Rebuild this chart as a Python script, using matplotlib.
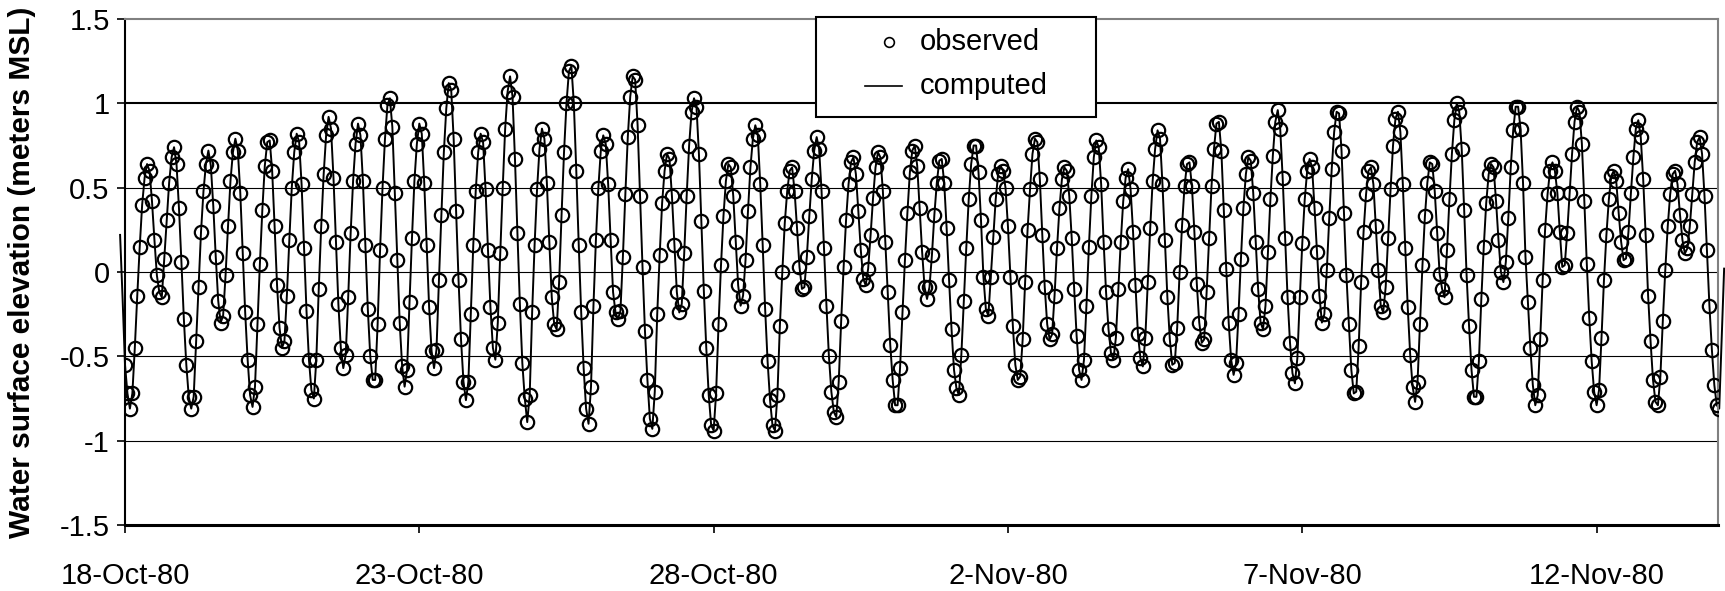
import numpy as np
import pandas as pd
import matplotlib
matplotlib.use('Agg')
import matplotlib.pyplot as plt
import matplotlib.dates as mdates
from matplotlib.lines import Line2D
from matplotlib.patches import Rectangle

plt.rcParams['font.family'] = ['Liberation Sans', 'DejaVu Sans']
plt.rcParams['axes.unicode_minus'] = False

start = pd.Timestamp('1980-10-18 00:00')

# hourly observed water surface elevation (m MSL), one row per day from 18-Oct-80
observed = [
    -0.55, -0.72, -0.81, -0.72, -0.45, -0.14, 0.15, 0.40, 0.56, 0.64, 0.60, 0.42, 0.19, -0.02, -0.12, -0.15, 0.08, 0.31, 0.53, 0.68, 0.74, 0.64, 0.38, 0.06,
    -0.28, -0.55, -0.74, -0.81, -0.74, -0.41, -0.09, 0.24, 0.48, 0.64, 0.72, 0.63, 0.39, 0.09, -0.17, -0.30, -0.26, -0.02, 0.27, 0.54, 0.71, 0.79, 0.72, 0.47,
    0.11, -0.24, -0.52, -0.73, -0.80, -0.68, -0.31, 0.05, 0.37, 0.63, 0.77, 0.78, 0.60, 0.27, -0.08, -0.33, -0.45, -0.41, -0.14, 0.19, 0.50, 0.71, 0.82, 0.77,
    0.52, 0.14, -0.23, -0.52, -0.70, -0.75, -0.52, -0.10, 0.27, 0.58, 0.81, 0.92, 0.85, 0.56, 0.18, -0.19, -0.45, -0.57, -0.49, -0.15, 0.23, 0.54, 0.76, 0.88,
    0.81, 0.54, 0.16, -0.22, -0.50, -0.64, -0.64, -0.31, 0.13, 0.50, 0.79, 0.99, 1.03, 0.86, 0.47, 0.07, -0.30, -0.56, -0.68, -0.58, -0.18, 0.20, 0.54, 0.76,
    0.88, 0.82, 0.53, 0.16, -0.21, -0.47, -0.57, -0.46, -0.05, 0.34, 0.71, 0.97, 1.12, 1.08, 0.79, 0.36, -0.05, -0.40, -0.65, -0.76, -0.65, -0.25, 0.16, 0.48,
    0.71, 0.82, 0.77, 0.49, 0.13, -0.21, -0.45, -0.52, -0.30, 0.11, 0.50, 0.85, 1.07, 1.16, 1.04, 0.67, 0.23, -0.19, -0.54, -0.75, -0.89, -0.73, -0.24, 0.16,
    0.49, 0.73, 0.85, 0.79, 0.53, 0.18, -0.15, -0.31, -0.34, -0.06, 0.34, 0.71, 1.00, 1.19, 1.22, 1.00, 0.60, 0.16, -0.24, -0.57, -0.81, -0.90, -0.68, -0.20,
    0.19, 0.50, 0.72, 0.81, 0.76, 0.52, 0.19, -0.12, -0.24, -0.28, -0.23, 0.09, 0.46, 0.80, 1.04, 1.16, 1.14, 0.87, 0.45, 0.03, -0.35, -0.64, -0.87, -0.93,
    -0.71, -0.25, 0.10, 0.41, 0.60, 0.70, 0.67, 0.45, 0.16, -0.12, -0.24, -0.19, 0.11, 0.45, 0.75, 0.95, 1.03, 0.98, 0.70, 0.30, -0.11, -0.45, -0.73, -0.91,
    -0.94, -0.72, -0.31, 0.04, 0.33, 0.54, 0.64, 0.62, 0.45, 0.18, -0.08, -0.20, -0.14, 0.07, 0.36, 0.62, 0.79, 0.87, 0.81, 0.52, 0.16, -0.22, -0.53, -0.76,
    -0.91, -0.94, -0.73, -0.32, 0.00, 0.29, 0.48, 0.60, 0.62, 0.48, 0.26, 0.03, -0.10, -0.09, 0.09, 0.33, 0.55, 0.72, 0.80, 0.73, 0.48, 0.14, -0.20, -0.50,
    -0.71, -0.83, -0.86, -0.65, -0.29, 0.03, 0.31, 0.52, 0.65, 0.68, 0.58, 0.36, 0.13, -0.04, -0.08, 0.02, 0.22, 0.44, 0.62, 0.71, 0.68, 0.48, 0.18, -0.12,
    -0.43, -0.64, -0.79, -0.79, -0.57, -0.24, 0.07, 0.35, 0.59, 0.72, 0.75, 0.63, 0.38, 0.12, -0.09, -0.16, -0.09, 0.10, 0.34, 0.53, 0.66, 0.67, 0.53, 0.26,
    -0.05, -0.34, -0.58, -0.69, -0.73, -0.49, -0.17, 0.14, 0.43, 0.64, 0.75, 0.75, 0.59, 0.31, -0.03, -0.22, -0.26, -0.03, 0.21, 0.43, 0.58, 0.63, 0.60, 0.50,
    0.27, -0.03, -0.32, -0.55, -0.64, -0.62, -0.40, -0.06, 0.25, 0.49, 0.70, 0.79, 0.77, 0.55, 0.22, -0.09, -0.31, -0.40, -0.37, -0.14, 0.14, 0.38, 0.55, 0.62,
    0.60, 0.45, 0.20, -0.10, -0.38, -0.58, -0.64, -0.52, -0.20, 0.15, 0.45, 0.68, 0.78, 0.74, 0.52, 0.18, -0.12, -0.34, -0.48, -0.52, -0.39, -0.10, 0.18, 0.42,
    0.56, 0.61, 0.49, 0.24, -0.08, -0.37, -0.51, -0.56, -0.39, -0.06, 0.26, 0.54, 0.73, 0.84, 0.79, 0.52, 0.19, -0.15, -0.40, -0.55, -0.54, -0.33, 0.00, 0.28,
    0.51, 0.64, 0.65, 0.51, 0.24, -0.07, -0.30, -0.42, -0.40, -0.12, 0.20, 0.51, 0.73, 0.88, 0.89, 0.72, 0.37, 0.02, -0.30, -0.52, -0.61, -0.54, -0.25, 0.08,
    0.38, 0.58, 0.68, 0.66, 0.47, 0.18, -0.10, -0.30, -0.34, -0.20, 0.12, 0.43, 0.69, 0.89, 0.96, 0.85, 0.56, 0.20, -0.15, -0.42, -0.60, -0.66, -0.51, -0.15,
    0.17, 0.43, 0.60, 0.67, 0.62, 0.38, 0.12, -0.14, -0.30, -0.25, 0.01, 0.32, 0.61, 0.83, 0.95, 0.94, 0.72, 0.35, -0.02, -0.31, -0.58, -0.72, -0.71, -0.44,
    -0.06, 0.24, 0.46, 0.60, 0.62, 0.52, 0.27, 0.01, -0.20, -0.24, -0.09, 0.20, 0.49, 0.75, 0.91, 0.95, 0.83, 0.52, 0.14, -0.21, -0.49, -0.68, -0.77, -0.65,
    -0.31, 0.04, 0.33, 0.53, 0.65, 0.64, 0.48, 0.23, -0.01, -0.10, -0.15, 0.13, 0.43, 0.70, 0.90, 1.00, 0.95, 0.73, 0.37, -0.02, -0.32, -0.58, -0.74, -0.74,
    -0.53, -0.16, 0.15, 0.41, 0.58, 0.64, 0.62, 0.42, 0.19, 0.00, -0.06, 0.06, 0.32, 0.62, 0.84, 0.98, 0.98, 0.85, 0.53, 0.09, -0.18, -0.45, -0.67, -0.79,
    -0.73, -0.40, -0.05, 0.25, 0.46, 0.60, 0.65, 0.60, 0.47, 0.24, 0.03, 0.04, 0.23, 0.47, 0.70, 0.89, 0.98, 0.95, 0.76, 0.42, 0.05, -0.27, -0.53, -0.71,
    -0.79, -0.70, -0.39, -0.05, 0.22, 0.43, 0.57, 0.60, 0.54, 0.35, 0.18, 0.07, 0.08, 0.24, 0.47, 0.68, 0.85, 0.90, 0.80, 0.55, 0.22, -0.14, -0.41, -0.64,
    -0.77, -0.79, -0.62, -0.29, 0.01, 0.27, 0.46, 0.58, 0.60, 0.52, 0.34, 0.19, 0.11, 0.14, 0.27, 0.46, 0.65, 0.77, 0.80, 0.70, 0.45, 0.13, -0.20, -0.46,
    -0.67, -0.79, -0.81,
]
obs_time = start + pd.to_timedelta(np.arange(len(observed)), unit='h')

# computed curve sits on the observations at this scale; it starts 2 h early
# and runs on a little past the last observation
comp_head = [0.22, -0.15]
comp_tail = [-0.40, 0.02]
computed = comp_head + observed + comp_tail
comp_time = start + pd.to_timedelta(np.arange(-len(comp_head), len(observed) + len(comp_tail)), unit='h')

tick_dates = pd.date_range('1980-10-18', '1980-11-12', freq='5D')
y_ticks = [-1.5, -1, -0.5, 0, 0.5, 1, 1.5]

fig = plt.figure(figsize=(17.25, 5.91), dpi=100)
ax = fig.add_axes([125 / 1725, 1 - 525 / 591, 1593 / 1725, 506 / 591])

for y in y_ticks[1:-1]:
    ax.axhline(y, color='black', lw=1.5 if y == 1 else 0.8, zorder=1)

ax.plot(comp_time, computed, color='black', lw=1.4, zorder=2, clip_on=False)
ax.plot(obs_time, observed, linestyle='none', marker='o', ms=9.6,
        mfc='none', mec='black', mew=1.6, zorder=3)

ax.set_ylim(-1.5, 1.5)
ax.set_xlim(start, start + pd.Timedelta(hours=649.5))
ax.set_yticks(y_ticks)
ax.set_yticklabels(['%g' % v for v in y_ticks])
ax.set_xticks(tick_dates)
ax.xaxis.set_major_formatter(plt.FuncFormatter(
    lambda x, pos: '{}-{}'.format(mdates.num2date(x).day, mdates.num2date(x).strftime('%b-%y'))))

ax.tick_params(axis='y', direction='out', length=6, width=1.2, pad=5, labelsize=21)
ax.tick_params(axis='x', direction='out', length=6, width=1.2, pad=21, labelsize=21)

for side in ['top', 'right']:
    ax.spines[side].set_color('#808080')
    ax.spines[side].set_linewidth(1.5)
ax.spines['left'].set_linewidth(1.5)
ax.spines['bottom'].set_linewidth(2.2)

ax.set_ylabel('Water surface elevation (meters MSL)', fontsize=21.5, fontweight='bold')
ax.yaxis.set_label_coords(-0.056, 0.5)

# legend box drawn by hand, as in the original
W, H = 1725, 591
fig.add_artist(Rectangle((816 / W, 1 - 117 / H), 280 / W, 100 / H, transform=fig.transFigure,
                         facecolor='white', edgecolor='black', lw=1.5, zorder=5))
fig.add_artist(Line2D([889 / W], [1 - 42 / H], transform=fig.transFigure, marker='o', ms=7,
                      mfc='none', mec='black', mew=1.2, linestyle='none', zorder=6))
fig.add_artist(Line2D([865 / W, 902 / W], [1 - 86 / H] * 2, transform=fig.transFigure,
                      color='black', lw=1.2, zorder=6))
fig.text(920 / W, 1 - 42 / H, 'observed', fontsize=21, va='center', ha='left', zorder=6)
fig.text(920 / W, 1 - 86 / H, 'computed', fontsize=21, va='center', ha='left', zorder=6)

fig.savefig('out.png', dpi=100)
